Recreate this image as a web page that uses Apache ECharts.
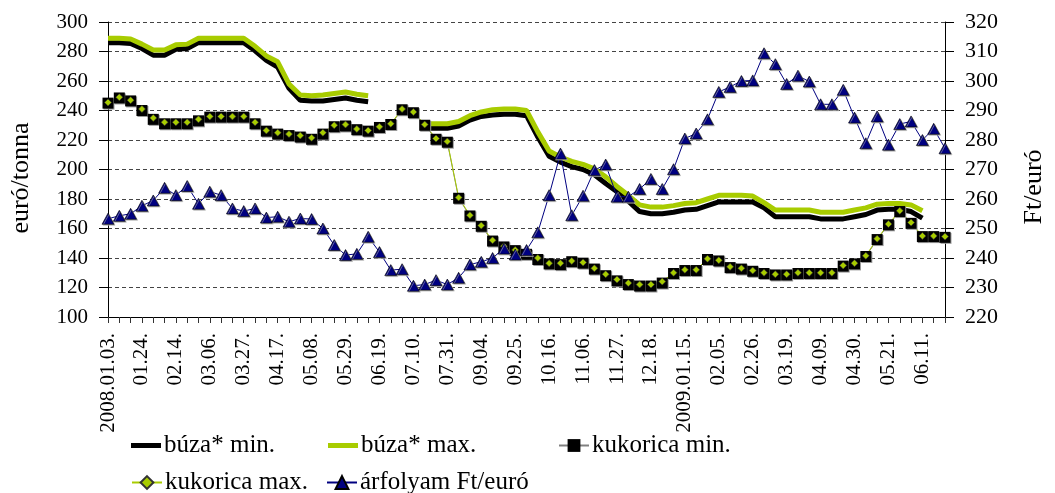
<!DOCTYPE html>
<html>
<head>
<meta charset="utf-8">
<title>búza, kukorica, árfolyam</title>
<script src="https://cdn.jsdelivr.net/npm/echarts@6/dist/echarts.min.js"></script>
<style>
html,body{margin:0;padding:0;background:#fff;}
#chart1{width:1055px;height:493px;}
</style>
</head>
<body>
<div id="chart1"></div>
<script>
// heti dátumok
var dates = ['2008.01.03.','01.10.','01.17.','01.24.','01.31.','02.07.','02.14.','02.21.','02.28.','03.06.',
	'03.13.','03.20.','03.27.','04.03.','04.10.','04.17.','04.24.','05.01.','05.08.','05.15.',
	'05.22.','05.29.','06.05.','06.12.','06.19.','06.26.','07.03.','07.10.','07.17.','07.24.',
	'07.31.','08.14.','08.28.','09.04.','09.11.','09.18.','09.25.','10.02.','10.09.','10.16.',
	'10.23.','10.30.','11.06.','11.13.','11.20.','11.27.','12.04.','12.11.','12.18.','12.30.',
	'01.08.','2009.01.15.','01.22.','01.29.','02.05.','02.12.','02.19.','02.26.','03.05.','03.12.',
	'03.19.','03.26.','04.02.','04.09.','04.16.','04.23.','04.30.','05.07.','05.14.','05.21.',
	'05.28.','06.04.','06.11.','06.18.','06.25.'];

var buzaMin = [286,286,285.5,282,277.5,277.5,281.5,282,286,286,
	286,286,286,280.5,274,269.5,255,247,246.5,246.5,
	247.5,248.5,247,246,null,null,null,null,228,228,
	228,229.5,233.5,236,237,237.5,237.5,236.5,222,209,
	205,202,200,196.5,190.5,185,178.5,171.5,170,170,
	171,172.5,173,175.5,178,178,178,178,174,168,
	168,168,168,166.5,166.5,166.5,168,169.5,172.5,173,
	173,171.5,167,null,null];

var buzaMax = [289,289,288.5,285,281,281,284.5,285,289,289,
	289,289,289,283.5,277,273,258,250.5,250,250.5,
	251.5,252.5,251,250,null,null,null,null,231,231,
	231,232.5,236.5,239,240.5,241,241,240,225.5,212.5,
	208.5,205.5,203.5,200.5,195,188.5,182.5,176,174.5,174.5,
	175.5,177,177.5,180,182.5,182.5,182.5,182,177.5,172.5,
	172.5,172.5,172.5,171,171,171,172.5,174,176.5,177,
	177,176,172,null,null];

var kukMin = [245,248.5,246.5,240,234,231,231,231,233,235.5,
	235.5,235.5,235.5,231,226,224,223,222,220.5,224,
	229,229.5,227,226,228.5,230.5,240.5,238.5,230,220.5,
	218.5,180.5,168.5,161.5,151.5,147.5,145,142.5,139,136,
	135.5,137.5,136.5,132.5,128,124.5,122,121,121,123,
	129.5,131.5,131.5,139,138,133.5,132.5,131,129.5,128.5,
	128.5,129.5,129.5,129.5,129.5,134.5,136,141,152.5,162.5,
	171.5,163.5,154.5,154.5,154];

var kukMax = [245.5,249,247,241,235,232,232,232,234,236,
	236,236,236,232,226.5,225,224,223,221.5,225,
	230,230.5,227.5,226.5,229,231,241,239,230.5,221,
	219,181,169,162,152,148,145.5,143,140,136.5,
	136.5,138,137,133,129,125.5,123,122,122,124,
	130,132,132,139.5,138.5,134,133,131.5,130,129,
	129,130,130,130,130,135,136.5,141.5,153,163,
	172,164,155,155,154.5];

var arfolyam = [253.3,254.3,255,257.7,259.5,263.8,261.3,264.4,258.4,262.5,
	261.3,256.8,255.9,256.8,253.7,254,252.3,253.4,253.2,250,
	244.4,241,241.4,247.2,242,235.9,236.2,230.6,231,232.5,
	231,233.3,237.8,238.7,240,243.2,241.2,242.7,248.7,261.3,
	275.4,254.5,261.1,269.8,271.7,260.8,260.8,263.4,266.8,263.4,
	270.1,280.5,282.2,287,296.3,298,300,300.2,309.4,305.7,
	299,301.8,299.8,292.1,292.1,297,287.6,278.9,288,278.4,
	285.4,286.3,280,283.8,277.2];

var leftTicks = {min: 100, max: 300, interval: 20};
var rightTicks = {min: 220, max: 320, interval: 10};

var serif = 'Liberation Serif';
var lime = '#a8cc00';

function legendItem(item, left, top, h){
	return {
		data: [item],
		left: left,
		top: top,
		selectedMode: false,
		itemWidth: 30,
		itemHeight: h,
		itemGap: 0,
		textStyle: {fontFamily: serif, fontSize: 25, color: '#000', padding: [0,0,0,-2]}
	};
}

var chart_area = echarts.init(document.getElementById('chart1'));
option = {
	animation: false,
	backgroundColor: '#fff',
	textStyle: {fontFamily: serif},
	legend: [
		legendItem({name: 'búza* min.', icon: 'rect'}, 126, 428, 5),
		legendItem({name: 'búza* max.', icon: 'rect'}, 323, 428, 5),
		legendItem('kukorica min.', 553, 428, 16),
		legendItem('kukorica max.', 126, 465, 16),
		legendItem('árfolyam Ft/euró', 321, 465, 16)
	],
	grid: {
		left: 108,
		right: 100,
		top: 22,
		bottom: 176
	},
	xAxis: [
		{
			type: 'category',
			boundaryGap: false,
			data: dates,
			axisLine: {lineStyle: {color: '#000', width: 1}},
			axisTick: {interval: 0, length: 6, lineStyle: {color: '#333'}},
			axisLabel: {
				interval: 2,
				rotate: 90,
				margin: 16,
				fontFamily: serif,
				fontSize: 21,
				color: '#000'
			}
		}
	],
	yAxis: [
		{
			type: 'value',
			min: leftTicks.min,
			max: leftTicks.max,
			interval: leftTicks.interval,
			name: 'euró/tonna',
			nameLocation: 'middle',
			nameRotate: 90,
			nameGap: 74,
			nameTextStyle: {fontFamily: serif, fontSize: 26, color: '#000', padding: [0,17,0,0]},
			axisLine: {show: true, lineStyle: {color: '#000'}},
			axisTick: {show: true, length: 9, lineStyle: {color: '#000'}},
			axisLabel: {margin: 20, fontFamily: serif, fontSize: 21, color: '#000'},
			splitLine: {lineStyle: {color: '#444', type: [4,3], width: 1}}
		},
		{
			type: 'value',
			position: 'right',
			min: rightTicks.min,
			max: rightTicks.max,
			interval: rightTicks.interval,
			name: 'Ft/euró',
			nameLocation: 'middle',
			nameRotate: 90,
			nameGap: 76,
			nameTextStyle: {fontFamily: serif, fontSize: 26, color: '#000', padding: [0,35,0,0]},
			axisLine: {show: true, lineStyle: {color: '#000'}},
			axisTick: {show: true, length: 9, lineStyle: {color: '#000'}},
			axisLabel: {margin: 20, fontFamily: serif, fontSize: 22, color: '#000'},
			splitLine: {show: false}
		}
	],
	series: [
		{
			name: 'búza* min.',
			type: 'line',
			symbol: 'none',
			itemStyle: {color: '#000'},
			lineStyle: {color: '#000', width: 5},
			data: buzaMin
		},
		{
			name: 'búza* max.',
			type: 'line',
			symbol: 'none',
			itemStyle: {color: lime},
			lineStyle: {color: lime, width: 5},
			data: buzaMax
		},
		{
			name: 'kukorica min.',
			type: 'line',
			symbol: 'rect',
			symbolSize: 11,
			showAllSymbol: true,
			itemStyle: {color: '#000', shadowColor: '#999', shadowOffsetX: 1, shadowOffsetY: 1},
			lineStyle: {color: '#808080', width: 1},
			data: kukMin
		},
		{
			name: 'kukorica max.',
			type: 'line',
			symbol: 'diamond',
			symbolSize: 7,
			showAllSymbol: true,
			itemStyle: {color: lime, borderColor: '#333', borderWidth: 0.6},
			lineStyle: {color: lime, width: 1},
			data: kukMax
		},
		{
			name: 'árfolyam Ft/euró',
			type: 'line',
			yAxisIndex: 1,
			symbol: 'triangle',
			symbolSize: [12, 11],
			showAllSymbol: true,
			itemStyle: {color: '#000080', borderColor: '#000', borderWidth: 0.6,
				shadowColor: '#aaa', shadowOffsetX: 1, shadowOffsetY: 1},
			lineStyle: {color: '#000080', width: 1},
			data: arfolyam
		}
	]
};
//使用刚指定的配置项和数据显示图表。
chart_area.setOption(option);
</script>
</body>
</html>
